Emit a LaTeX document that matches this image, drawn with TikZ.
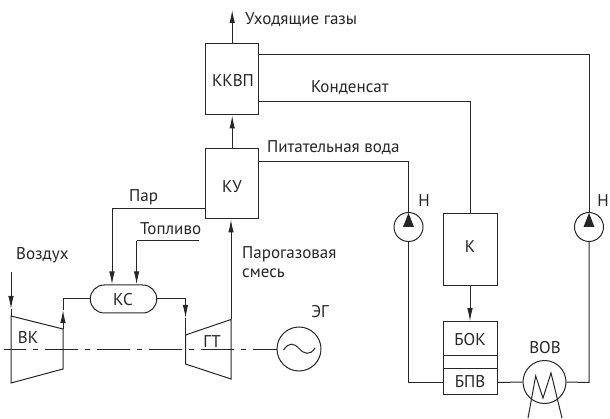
\documentclass[tikz,border=0pt]{standalone}
\usepackage{fontspec}
\setmainfont{PT Sans}
\usetikzlibrary{arrows.meta,shapes.misc}
\tikzset{
 x=1pt,y=-1pt,
 line/.style={draw=black!85,line width=1pt},
 tipp/.style={-{Latex[length=13pt,width=5.5pt]},line},
 lbl/.style={inner sep=0pt,font=\fontsize{17}{19}\selectfont,text=black!85},
 boxx/.style={line,minimum width=0,inner sep=0pt},
}
\begin{document}
\begin{tikzpicture}[line join=miter]
\useasboundingbox (0,0) rectangle (610,419);
% boxes
\node[boxx,minimum width=53.5pt,minimum height=71pt] (kkvp) at (232.2,79.5) {};
\node[boxx,minimum width=53.5pt,minimum height=70pt] (ku) at (232.2,184) {};
\node[boxx,minimum width=54pt,minimum height=72pt] (k) at (470,250) {};
\node[boxx,minimum width=54pt,minimum height=72.5pt] (bok) at (470,358) {};
\node[boxx,rounded rectangle,minimum width=66.5pt,minimum height=28pt] (ks) at (123.5,299) {};
\node[boxx,circle,minimum size=29pt] (p1) at (408.5,227) {};
\node[boxx,circle,minimum size=29pt] (p2) at (589,227) {};
\node[boxx,circle,minimum size=43pt] (vov) at (544.5,382) {};
\node[boxx,circle,minimum size=44pt] (eg) at (299,349) {};
% coordinates
\coordinate (exh) at (232.2,10);
\coordinate (vkin) at (11,272);
\coordinate (a) at (11,316);
\coordinate (b) at (63,329);
\coordinate (c) at (63,369);
\coordinate (d) at (11,383);
\coordinate (e) at (185.5,335);
\coordinate (f) at (231,319.5);
\coordinate (g) at (231,379);
\coordinate (h) at (185.5,364);
\coordinate (axs) at (4,349);
\coordinate (fuel) at (199,241);
% machines
\draw[line] (a)--(b)--(c)--(d)--cycle;
\draw[line] (e)--(f)--(g)--(h)--cycle;
% axis
\draw[line,dash pattern=on 33pt off 6.5pt on 5pt off 7.5pt,dash phase=11pt] (axs) -- (eg.west);
% connectors
\draw[tipp] (kkvp.north) -- (exh);
\draw[tipp] (ku.north) -- (kkvp.south);
\draw[line] (kkvp.east |- 0,55) -- (589,55) -- (p2.north);
\draw[line] (kkvp.east |- 0,101.5) -- (470,101.5) -- (k.north);
\draw[line] (ku.east |- 0,161.5) -- (408.5,161.5) -- (p1.north);
\draw[tipp] (k.south) -- (bok.north);
\draw[line] (p1.south) -- (408.5,382.5) -- (bok.west |- 0,382.5);
\draw[line] (bok.east |- 0,382.5) -- (vov.west);
\draw[line] (vov.east) -- (589,382.5) -- (p2.south);
\draw[line] (ku.west |- 0,209) -- (112,209) coordinate (pr);
\draw[tipp] (pr) -- (ks.north -| pr);
\draw[line] (fuel) -- (136.6,241) coordinate (fl);
\draw[tipp] (fl) -- (ks.north -| fl);
\draw[tipp] (vkin) -- (11,309);
\draw[line] (11,309) -- (a);
\draw[tipp] (b) -- (63,310);
\draw[line] (63,310) -- (63,299) -- (ks.west);
\draw[line] (ks.east) -- (185.5,299);
\draw[tipp] (185.5,299) -- (185.5,318);
\draw[line] (185.5,318) -- (e);
\draw[tipp] (f) -- (ku.south -| f);
% inner
\draw[line] (bok.west |- 0,355.7) -- (bok.east |- 0,355.7);
\draw[line] (bok.west |- 0,368) -- (bok.east |- 0,368);
\fill[black!85] (408.5,213) -- (403,227) -- (414,227) -- cycle;
\fill[black!85] (589,213) -- (583.5,227) -- (594.5,227) -- cycle;
\draw[line] (528,418) -- (535.7,376) -- (543,398) -- (551,373) -- (562,418);
\draw[line] (283.5,350) .. controls (289,342) and (294,343) .. (299,348.5) .. controls (304,354) and (310,356) .. (315,348);
% labels
\node[lbl,anchor=west] at (245,20) {Уходящие газы};
\node[lbl] at (233,81) {ККВП};
\node[lbl,anchor=west] at (311,88) {Конденсат};
\node[lbl,anchor=west] at (267,148) {Питательная вода};
\node[lbl] at (232,187) {КУ};
\node[lbl,anchor=west] at (129,197) {Пар};
\node[lbl,anchor=west] at (140,229) {Топливо};
\node[lbl,anchor=west] at (16,255) {Воздух};
\node[lbl,anchor=west,align=left] at (242,262) {Парогазовая\\смесь};
\node[lbl] at (320,312) {ЭГ};
\node[lbl] at (28,338) {ВК};
\node[lbl] at (123,300) {КС};
\node[lbl] at (212,342) {ГТ};
\node[lbl] at (424,201) {Н};
\node[lbl] at (603,201) {Н};
\node[lbl] at (470,247) {К};
\node[lbl] at (470,340) {БОК};
\node[lbl] at (470,382) {БПВ};
\node[lbl] at (545,348) {ВОВ};
\end{tikzpicture}
\end{document}
